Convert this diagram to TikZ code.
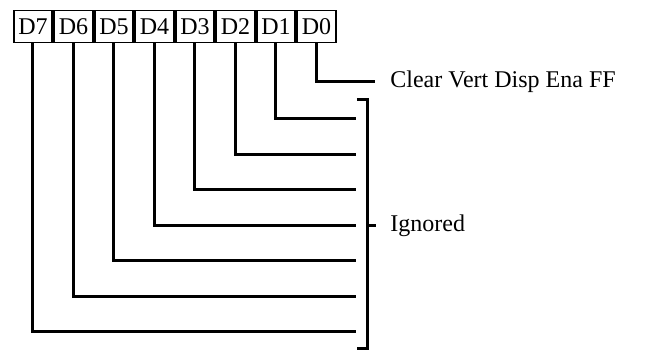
\documentclass[tikz,border=0pt]{standalone}
\usepackage{fontspec}
\setmainfont{Liberation Serif}
\usetikzlibrary{positioning}

\begin{document}
\begin{tikzpicture}[
    x=0.5pt, y=-0.5pt,
    bit/.style={draw, line width=0.9pt, minimum width=19.35pt, minimum height=16pt, inner sep=0pt, font=\fontsize{12}{14}\selectfont},
    wire/.style={line width=1.5pt},
    lbl/.style={font=\fontsize{12}{14}\selectfont, inner sep=0pt}
]
    \useasboundingbox (0,0) rectangle (645,352);

    \node[bit] at (33,26.5) (b7) {D7};
    \node[bit, right=0pt of b7] (b6) {D6};
    \node[bit, right=0pt of b6] (b5) {D5};
    \node[bit, right=0pt of b5] (b4) {D4};
    \node[bit, right=0pt of b4] (b3) {D3};
    \node[bit, right=0pt of b3] (b2) {D2};
    \node[bit, right=0pt of b2] (b1) {D1};
    \node[bit, right=0pt of b1] (b0) {D0};

    \coordinate (e0) at (375,82);
    \coordinate (e1) at (356,119);
    \coordinate (e2) at (356,155);
    \coordinate (e3) at (356,190);
    \coordinate (e4) at (356,226);
    \coordinate (e5) at (356,261);
    \coordinate (e6) at (356,297);
    \coordinate (e7) at (356,332);

    \draw[wire] (b0.south) |- (e0);
    \draw[wire] (b1.south) |- (e1);
    \draw[wire] (b2.south) |- (e2);
    \draw[wire] (b3.south) |- (e3);
    \draw[wire] (b4.south) |- (e4);
    \draw[wire] (b5.south) |- (e5);
    \draw[wire] (b6.south) |- (e6);
    \draw[wire] (b7.south) |- (e7);

    \node[lbl, right=7.5pt of e0] (clr) {Clear Vert Disp Ena FF};

    % bracket
    \coordinate (bt) at (357,100);
    \coordinate (bb) at (357,349);
    \coordinate (bm) at (368,226);
    \coordinate (ti) at (376,226);
    \draw[wire] (bt) -- ++(11,0) |- (bb);
    \draw[wire] (bm) -- (ti);
    \node[lbl, right=7pt of ti] (ign) {Ignored};
\end{tikzpicture}
\end{document}
